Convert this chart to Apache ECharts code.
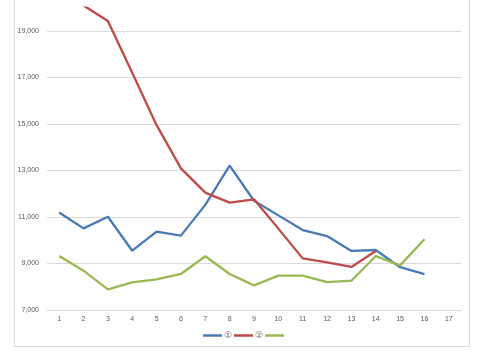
<!DOCTYPE html>
<html>
<head>
<meta charset="utf-8">
<script src="https://cdn.jsdelivr.net/npm/echarts@6/dist/echarts.min.js"></script>
<style>
html, body { margin: 0; padding: 0; background: #fff; }
#wrap { position: relative; width: 480px; height: 353px; overflow: hidden; }
#frame {
    position: absolute; left: 14px; top: -10px; width: 456px; height: 357px;
    border: 1px solid #d9d9d9; box-sizing: border-box;
}
#chart { position: absolute; left: 0; top: 0; width: 480px; height: 353px; }
</style>
</head>
<body>
<div id="wrap">
    <div id="frame"></div>
    <div id="chart"></div>
</div>
<script>
var categories = ['1', '2', '3', '4', '5', '6', '7', '8', '9', '10', '11', '12', '13', '14', '15', '16', '17'];
var seriesNames = ['①', '②', ' '];
var series1 = [11190, 10510, 11010, 9550, 10370, 10200, 11520, 13210, 11700, 11070, 10440, 10180, 9540, 9580, 8840, 8540, null];
var series2 = [21500, 20100, 19430, 17200, 14950, 13090, 12050, 11620, 11760, 10500, 9220, 9050, 8850, 9540, null, null, null];
var series3 = [9320, 8690, 7890, 8190, 8320, 8550, 9310, 8550, 8060, 8480, 8480, 8200, 8260, 9320, 8920, 10040, null];
var colors = ['#4a7ab5', '#be4b48', '#98b954'];

var chart = echarts.init(document.getElementById('chart'));

function makeLine(name, data, color) {
    return {
        name: name,
        type: 'line',
        data: data,
        symbol: 'none',
        clip: true,
        lineStyle: { color: color, width: 2.3 },
        itemStyle: { color: color }
    };
}

chart.setOption({
    animation: false,
    textStyle: { fontFamily: 'Liberation Sans' },
    grid: { left: 47, right: 19, top: 7.75, bottom: 43 },
    legend: {
        data: seriesNames,
        bottom: 8,
        left: 198,
        icon: 'rect',
        itemWidth: 19,
        itemHeight: 2.5,
        itemGap: 2,
        textStyle: { fontSize: 9, color: '#595959', padding: [0, 0, 0, -3] }
    },
    xAxis: {
        type: 'category',
        data: categories,
        boundaryGap: true,
        axisLine: { lineStyle: { color: '#d9d9d9' } },
        axisTick: { show: false },
        axisLabel: { fontSize: 7, color: '#595959', margin: 6 }
    },
    yAxis: {
        type: 'value',
        min: 7000,
        max: 20000,
        interval: 1000,
        axisLine: { show: false },
        axisTick: { show: false },
        axisLabel: {
            fontSize: 7,
            color: '#595959',
            margin: 8,
            formatter: function (v) {
                if ((v - 7000) % 2000 === 0 && v < 20000) {
                    return v.toLocaleString('en-US');
                }
                return '';
            }
        },
        splitLine: { lineStyle: { color: ['#d9d9d9', 'rgba(0,0,0,0)'], width: 1 } }
    },
    series: [
        makeLine(seriesNames[0], series1, colors[0]),
        makeLine(seriesNames[1], series2, colors[1]),
        makeLine(seriesNames[2], series3, colors[2])
    ]
});
</script>
</body>
</html>
